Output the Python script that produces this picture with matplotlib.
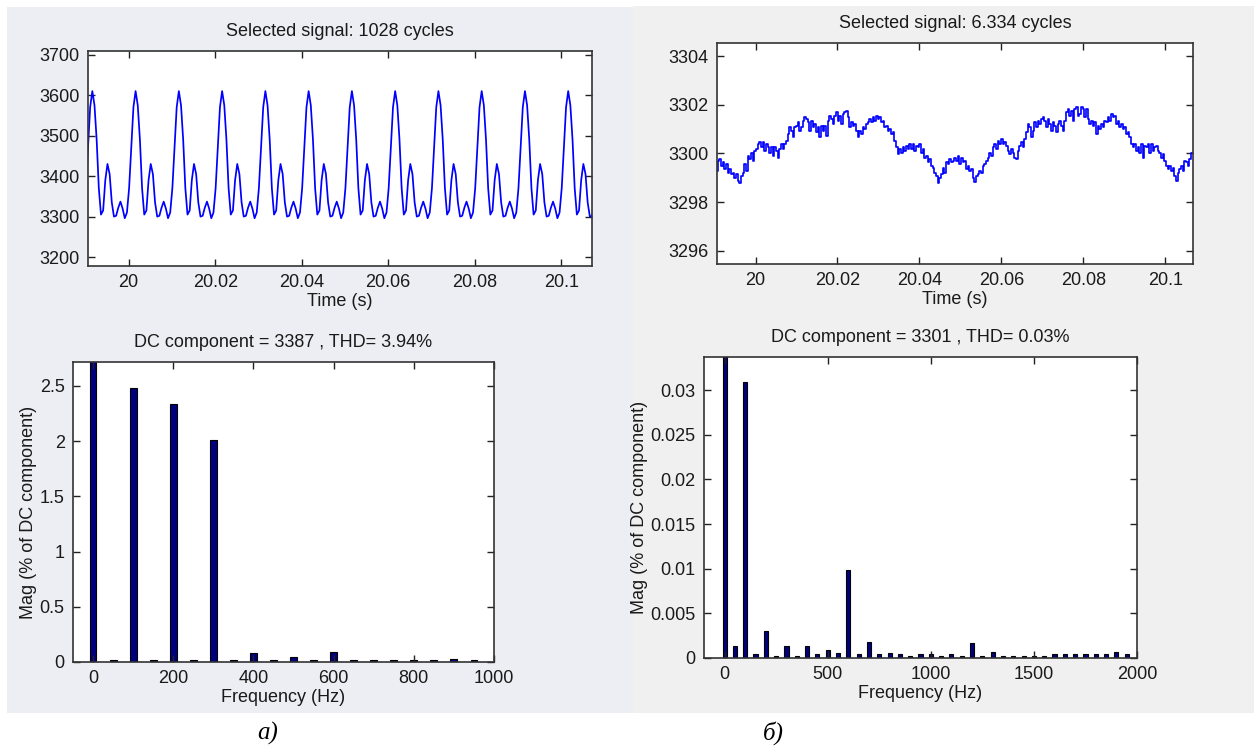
import numpy as np
import matplotlib.pyplot as plt
from matplotlib.patches import Rectangle
from matplotlib.ticker import FuncFormatter

# ==========================================
# DATA
# ==========================================
# one period (0.01 s, 100 Hz) of the distorted signal, sampled every 0.0005 s,
# starting at a main peak; the measured signal repeats it identically
period_a = [3610, 3575, 3490, 3370, 3305, 3315, 3390, 3430, 3405, 3335,
            3300, 3302, 3322, 3337, 3320, 3296, 3310, 3370, 3470, 3570]
t0_a = 19.9816
dt_a = 0.0005
n_periods_a = 13

# filtered signal, sampled every ~0.000407 s from 19.99056 s
signal_b = [
    3299.28, 3299.70, 3299.77, 3299.49, 3299.63, 3299.35, 3299.56, 3299.21, 3299.35, 3299.14,
    3299.21, 3299.01, 3299.14, 3298.87, 3298.80, 3299.08, 3299.21, 3299.56, 3299.28, 3299.90,
    3299.77, 3300.04, 3299.70, 3300.11, 3300.18, 3300.39, 3300.46, 3300.25, 3300.46, 3300.11,
    3300.39, 3300.25, 3300.04, 3300.25, 3299.90, 3300.25, 3300.11, 3299.83, 3300.18, 3300.39,
    3300.18, 3300.41, 3300.52, 3300.80, 3301.08, 3300.94, 3300.66, 3301.08, 3301.15, 3301.28,
    3300.94, 3301.08, 3301.35, 3301.49, 3301.42, 3301.28, 3300.94, 3301.35, 3301.08, 3301.21,
    3300.87, 3301.08, 3300.66, 3301.15, 3300.94, 3301.15, 3300.73, 3301.35, 3301.56, 3301.42,
    3301.21, 3301.56, 3301.70, 3301.35, 3301.56, 3301.21, 3301.63, 3301.70, 3301.77, 3301.49,
    3301.08, 3301.28, 3301.15, 3301.21, 3300.94, 3300.66, 3300.94, 3300.80, 3301.08, 3301.01,
    3301.21, 3301.28, 3301.42, 3301.28, 3301.49, 3301.35, 3301.56, 3301.42, 3301.49, 3301.28,
    3301.35, 3301.08, 3301.15, 3300.94, 3301.01, 3300.80, 3300.87, 3300.52, 3300.25, 3299.97,
    3300.18, 3300.04, 3300.25, 3300.11, 3300.32, 3300.18, 3300.39, 3300.18, 3300.39, 3300.11,
    3300.32, 3300.25, 3300.39, 3300.04, 3300.18, 3299.83, 3299.90, 3299.63, 3299.77, 3299.49,
    3299.42, 3299.21, 3299.08, 3298.80, 3299.01, 3299.14, 3299.42, 3299.21, 3299.63, 3299.56,
    3299.77, 3299.63, 3299.70, 3299.83, 3299.70, 3299.90, 3299.56, 3299.83, 3299.63, 3299.70,
    3299.35, 3299.49, 3299.28, 3299.35, 3299.01, 3298.84, 3299.08, 3299.14, 3299.28, 3299.21,
    3299.49, 3299.56, 3299.70, 3299.83, 3300.04, 3299.90, 3300.25, 3300.39, 3300.18, 3300.52,
    3300.39, 3300.59, 3300.39, 3300.46, 3300.32, 3300.11, 3299.97, 3300.18, 3300.04, 3299.83,
    3299.77, 3300.11, 3300.32, 3300.46, 3300.25, 3300.59, 3300.87, 3301.21, 3301.08, 3300.66,
    3300.94, 3301.28, 3301.08, 3301.35, 3301.21, 3301.42, 3301.49, 3301.35, 3301.08, 3301.42,
    3301.21, 3300.94, 3301.28, 3301.15, 3300.87, 3301.21, 3301.35, 3301.15, 3300.94, 3301.35,
    3301.70, 3301.84, 3301.56, 3301.77, 3301.35, 3301.84, 3301.91, 3301.56, 3301.63, 3301.91,
    3301.84, 3301.49, 3301.84, 3301.42, 3301.21, 3301.35, 3301.15, 3301.28, 3300.80, 3301.15,
    3301.01, 3301.21, 3301.08, 3301.35, 3301.28, 3301.49, 3301.35, 3301.63, 3301.49, 3301.56,
    3301.21, 3301.35, 3301.08, 3301.21, 3301.01, 3301.08, 3300.80, 3300.87, 3300.66, 3300.39,
    3300.25, 3300.39, 3300.11, 3300.25, 3300.04, 3300.39, 3299.83, 3300.32, 3300.25, 3300.39,
    3300.04, 3300.39, 3300.11, 3300.25, 3300.32, 3300.11, 3300.04, 3299.83, 3299.97, 3299.70,
    3299.49, 3299.35, 3299.49, 3299.28, 3299.42, 3299.08, 3298.87, 3299.21, 3299.35, 3299.49,
    3299.28, 3299.70, 3299.63, 3299.49, 3299.77, 3300.04]
t0_b = 19.99056
dt_b = 0.000407

# harmonic spectra, bars every 50 Hz (% of DC component)
freq_a = [0, 50, 100, 150, 200, 250, 300, 350, 400, 450,
          500, 550, 600, 650, 700, 750, 800, 850, 900, 950]
mag_a = [100, 0.015, 2.479, 0.015, 2.334, 0.015, 2.009, 0.015, 0.081, 0.015,
         0.042, 0.015, 0.093, 0.015, 0.015, 0.015, 0.015, 0.015, 0.027, 0.015]

freq_b = [0, 50, 100, 150, 200, 250, 300, 350, 400, 450,
          500, 550, 600, 650, 700, 750, 800, 850, 900, 950,
          1000, 1050, 1100, 1150, 1200, 1250, 1300, 1350, 1400, 1450,
          1500, 1550, 1600, 1650, 1700, 1750, 1800, 1850, 1900, 1950]
mag_b = [100, 0.00135, 0.0309, 0.0004, 0.0030, 0.0002, 0.00135, 0.0002, 0.00135, 0.0004,
         0.0009, 0.0006, 0.0098, 0.0004, 0.0018, 0.0004, 0.0006, 0.0004, 0.0002, 0.0004,
         0.0004, 0.0002, 0.0004, 0.0002, 0.0017, 0.0002, 0.0007, 0.0002, 0.0002, 0.0002,
         0.0002, 0.0002, 0.0004, 0.0004, 0.0004, 0.0004, 0.0004, 0.0004, 0.0007, 0.0004]

titlu_sus = ['Selected signal: 1028 cycles', 'Selected signal: 6.334 cycles']
titlu_jos = ['DC component = 3387 , THD= 3.94%', 'DC component = 3301 , THD= 0.03%']
etichete = ['а)', 'б)']

# ==========================================
# FIGURE
# ==========================================
plt.rcParams['font.family'] = ['Liberation Sans', 'DejaVu Sans']
FS = 13
TXT = '#1a1a1a'

fig = plt.figure(figsize=(12.54, 7.47), dpi=100)
fig.patch.set_facecolor('white')

# panel backgrounds (pixel coords from top-left)
def fig_rect(x0, y0, x1, y1, color):
    fig.patches.append(Rectangle((x0 / 1254, 1 - y1 / 747), (x1 - x0) / 1254, (y1 - y0) / 747,
                                 transform=fig.transFigure, facecolor=color, edgecolor='none', zorder=-10))

fig_rect(7, 7, 633, 713, '#ECEEF3')
fig_rect(633, 6, 1254, 713, '#F0F0F0')

def px_axes(x0, y0, x1, y1):
    return fig.add_axes([x0 / 1254, 1 - y1 / 747, (x1 - x0) / 1254, (y1 - y0) / 747])

def stil(ax):
    ax.tick_params(direction='in', top=True, right=True, length=5, width=1,
                   labelsize=FS, colors='#222222', labelcolor=TXT, pad=6)
    for s in ax.spines.values():
        s.set_color('#333333')
        s.set_linewidth(1.2)
    ax.set_facecolor('white')

fmt_g = FuncFormatter(lambda v, p: '%g' % round(v, 6))

# --- top left: distorted signal
ax1 = px_axes(88, 51, 592, 266)
y_a = np.tile(period_a, n_periods_a)
t_a = t0_a + np.arange(len(y_a)) * dt_a
ax1.plot(t_a, y_a, color='#0000FF', linewidth=1.25)
ax1.set_xlim(19.9906, 20.1071)
ax1.set_ylim(3178, 3709)
ax1.set_xticks([20, 20.02, 20.04, 20.06, 20.08, 20.1])
ax1.set_yticks([3200, 3300, 3400, 3500, 3600, 3700])
ax1.xaxis.set_major_formatter(fmt_g)
ax1.set_title(titlu_sus[0], fontsize=FS, color=TXT, pad=11)
ax1.set_xlabel('Time (s)', fontsize=FS, color=TXT, labelpad=1)
stil(ax1)

# --- top right: filtered signal
ax2 = px_axes(717, 43, 1193, 264)
t_b = t0_b + np.arange(len(signal_b)) * dt_b
ax2.plot(t_b, signal_b, color='#0000FF', linewidth=1.2, drawstyle='steps-mid')
ax2.set_xlim(19.9906, 20.1068)
ax2.set_ylim(3295.45, 3304.55)
ax2.set_xticks([20, 20.02, 20.04, 20.06, 20.08, 20.1])
ax2.set_yticks([3296, 3298, 3300, 3302, 3304])
ax2.xaxis.set_major_formatter(fmt_g)
ax2.set_title(titlu_sus[1], fontsize=FS, color=TXT, pad=11)
ax2.set_xlabel('Time (s)', fontsize=FS, color=TXT, labelpad=1)
stil(ax2)

# --- bottom left: spectrum
ax3 = px_axes(73, 362, 494, 662)
ax3.bar(freq_a, mag_a, width=17, color='#00007F', edgecolor='black', linewidth=0.8)
ax3.set_xlim(-50, 1000)
ax3.set_ylim(0, 2.715)
ax3.set_xticks([0, 200, 400, 600, 800, 1000])
ax3.set_yticks([0, 0.5, 1, 1.5, 2, 2.5])
ax3.yaxis.set_major_formatter(fmt_g)
ax3.set_title(titlu_jos[0], fontsize=FS, color=TXT, pad=11)
ax3.set_xlabel('Frequency (Hz)', fontsize=FS, color=TXT, labelpad=1)
ax3.set_ylabel('Mag (% of DC component)', fontsize=FS, color=TXT, labelpad=2)
stil(ax3)

# --- bottom right: spectrum
ax4 = px_axes(704, 357, 1137, 658)
ax4.bar(freq_b, mag_b, width=20, color='#00007F', edgecolor='black', linewidth=0.8)
ax4.set_xlim(-100, 2000)
ax4.set_ylim(0, 0.0337)
ax4.set_xticks([0, 500, 1000, 1500, 2000])
ax4.set_yticks([0, 0.005, 0.01, 0.015, 0.02, 0.025, 0.03])
ax4.yaxis.set_major_formatter(fmt_g)
ax4.set_title(titlu_jos[1], fontsize=FS, color=TXT, pad=11)
ax4.set_xlabel('Frequency (Hz)', fontsize=FS, color=TXT, labelpad=1)
ax4.set_ylabel('Mag (% of DC component)', fontsize=FS, color=TXT, labelpad=2)
stil(ax4)

# sub-figure labels
fig.text(268 / 1254, 1 - 733 / 747, etichete[0], fontsize=18, style='italic',
         family=['Liberation Serif', 'DejaVu Serif'], ha='center', va='center')
fig.text(773 / 1254, 1 - 733 / 747, etichete[1], fontsize=18, style='italic',
         family=['Liberation Serif', 'DejaVu Serif'], ha='center', va='center')

fig.savefig('out.png', dpi=100)
